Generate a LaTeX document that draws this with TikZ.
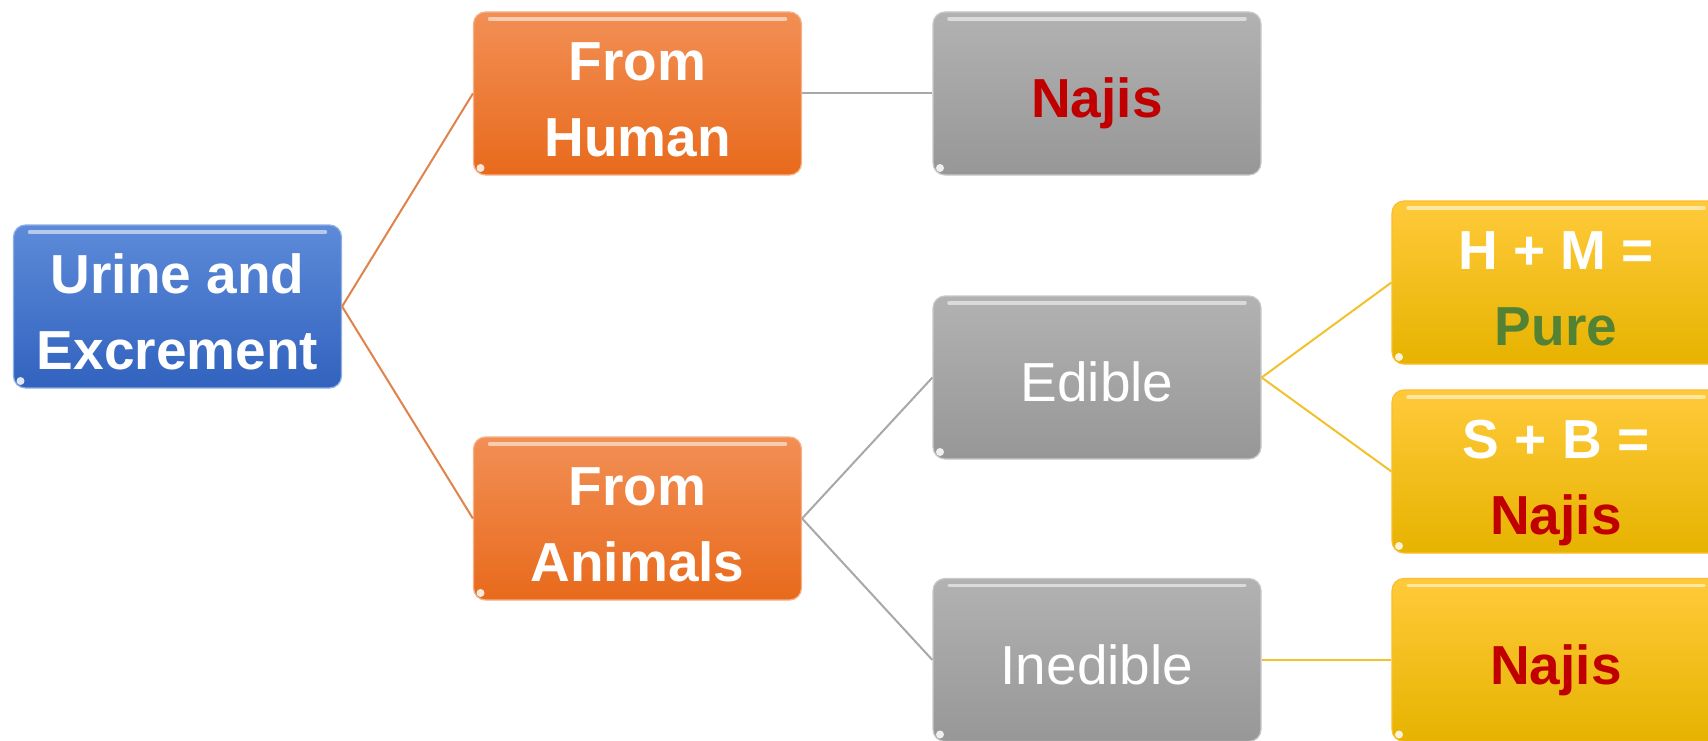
\documentclass[tikz,border=0pt]{standalone}
\usepackage{fontspec}
\setmainfont{Liberation Sans}
\definecolor{bluetop}{HTML}{5D8BD9}
\definecolor{bluebot}{HTML}{3162BE}
\definecolor{orgtop}{HTML}{F28F55}
\definecolor{orgbot}{HTML}{E86A1C}
\definecolor{graytop}{HTML}{B2B2B2}
\definecolor{graybot}{HTML}{979797}
\definecolor{yeltop}{HTML}{FFCA3A}
\definecolor{yelbot}{HTML}{E6B300}
\definecolor{txtred}{HTML}{C00000}
\definecolor{txtgreen}{HTML}{548235}
\definecolor{lnorange}{HTML}{E0834A}
\definecolor{lngray}{HTML}{A8A8A8}
\definecolor{lnyellow}{HTML}{F2C12E}
\newcommand{\twoln}[2]{\begin{tabular}[t]{@{}c@{}}#1\\#2\end{tabular}}
\tikzset{
  boxbase/.style={rounded corners=12pt, minimum width=328pt, minimum height=163pt,
    inner sep=0pt, align=center, text=white, line width=1.2pt,
    font=\fontsize{55}{76}\selectfont\bfseries,
    path picture={\draw[white, opacity=.55, line width=3.5pt, line cap=round]
      ([xshift=16pt,yshift=-7pt]path picture bounding box.north west) --
      ([xshift=-16pt,yshift=-7pt]path picture bounding box.north east);
      \fill[white, opacity=.85] ([xshift=7pt,yshift=7pt]path picture bounding box.south west) circle (4pt);}},
  onel/.style={text height=48pt, text depth=0pt},
  twol/.style={text height=0pt, text depth=26pt},
  bluebox/.style={boxbase, top color=bluetop, bottom color=bluebot, draw=bluetop!70!white},
  orangebox/.style={boxbase, top color=orgtop, bottom color=orgbot, draw=orgtop!70!white},
  graybox/.style={boxbase, top color=graytop, bottom color=graybot, draw=graytop!70!white},
  yellowbox/.style={boxbase, top color=yeltop, bottom color=yelbot, draw=yeltop!80!orange},
  plain/.style={font=\fontsize{55}{76}\selectfont\mdseries},
  conn/.style={line width=2pt}
}
\begin{document}
\begin{tikzpicture}[x=1pt,y=-1pt]
\clip (0,0) rectangle (1708,741);
\fill[white] (0,0) rectangle (1708,741);
\node[bluebox, twol] (root) at (177.5,306.5) {\twoln{Urine and}{Excrement}};
\node[orangebox, twol] (human) at (637.5,93.5) {\twoln{From}{Human}};
\node[orangebox, twol] (animals) at (637.5,518.5) {\twoln{From}{Animals}};
\node[graybox, onel] (najis1) at (1097,93.5) {\textcolor{txtred}{Najis}};
\node[graybox, plain, onel] (edible) at (1097,377.5) {Edible};
\node[graybox, plain, onel] (inedible) at (1097,660) {Inedible};
\node[yellowbox, twol] (hm) at (1556,282.5) {\twoln{H + M =}{\textcolor{txtgreen}{Pure}}};
\node[yellowbox, twol] (sb) at (1556,471.5) {\twoln{S + B =}{\textcolor{txtred}{Najis}}};
\node[yellowbox, onel] (najis2) at (1556,660) {\textcolor{txtred}{Najis}};
\draw[conn, lnorange] (root.east) -- (human.west);
\draw[conn, lnorange] (root.east) -- (animals.west);
\draw[conn, lngray] (human.east) -- (najis1.west);
\draw[conn, lngray] (animals.east) -- (edible.west);
\draw[conn, lngray] (animals.east) -- (inedible.west);
\draw[conn, lnyellow] (edible.east) -- (hm.west);
\draw[conn, lnyellow] (edible.east) -- (sb.west);
\draw[conn, lnyellow] (inedible.east) -- (najis2.west);
\end{tikzpicture}
\end{document}
